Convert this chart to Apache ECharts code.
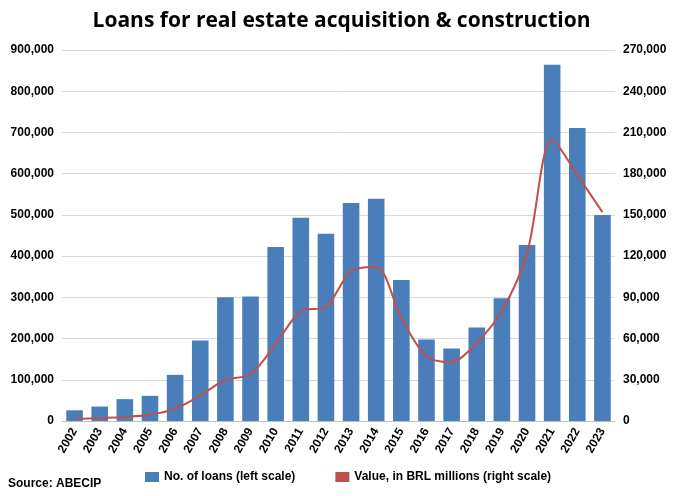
<!DOCTYPE html>
<html><head><meta charset="utf-8">
<script src="https://cdn.jsdelivr.net/npm/echarts@6/dist/echarts.min.js"></script>
<style>html,body{margin:0;padding:0;background:#fff}#c{width:683px;height:496px}</style>
</head><body><div id="c"></div>
<script>
const years=['2002','2003','2004','2005','2006','2007','2008','2009','2010','2011','2012','2013','2014','2015','2016','2017','2018','2019','2020','2021','2022','2023'];
const loans=[26000,35000,53000,61000,112000,195000,300000,302000,422000,493000,454000,529000,539000,342000,198000,176000,227000,298000,427000,864000,711000,500000];
const values=[1500,2200,3000,4500,9000,18500,30000,34000,56000,80000,83000,109000,112000,75000,47000,43000,57000,80000,122000,205000,179000,152000];
const fmt=v=>v.toLocaleString('en-US');
const ch=echarts.init(document.getElementById('c'));
const font='Liberation Sans';
ch.setOption({
  animation:false,
  title:{text:'Loans for real estate acquisition & construction',left:'center',top:6,textStyle:{fontFamily:'Open Sans',fontSize:21,fontWeight:'bold',color:'#000'}},
  graphic:[{type:'text',left:8,top:478,style:{text:'Source: ABECIP',font:'bold 12px "Liberation Sans"',fill:'#000'}}],
  legend:{bottom:8,left:140,itemGap:40,textStyle:{fontFamily:font,fontWeight:'bold',fontSize:12,color:'#000'},
    data:[{name:'No. of loans (left scale)',icon:'rect'},{name:'Value, in BRL millions (right scale)',icon:'rect'}],itemWidth:14,itemHeight:10},
  grid:{left:62,right:68,top:50,bottom:75},
  xAxis:{type:'category',data:years,axisTick:{show:false},axisLine:{lineStyle:{color:'#bfbfbf'}},
    axisLabel:{rotate:60,interval:0,fontFamily:font,fontWeight:'bold',fontSize:12,color:'#000'}},
  yAxis:[{type:'value',min:0,max:900000,interval:100000,axisLabel:{formatter:fmt,fontFamily:font,fontWeight:'bold',fontSize:12,color:'#000'},splitLine:{lineStyle:{color:'#d9d9d9'}}},
    {type:'value',min:0,max:270000,interval:30000,axisLabel:{formatter:fmt,fontFamily:font,fontWeight:'bold',fontSize:12,color:'#000'},splitLine:{show:false}}],
  series:[{name:'No. of loans (left scale)',type:'bar',data:loans,barWidth:'66%',itemStyle:{color:'#4a7ebb'}},
    {name:'Value, in BRL millions (right scale)',type:'line',yAxisIndex:1,data:values,smooth:0.3,showSymbol:false,lineStyle:{color:'#c0504d',width:2},itemStyle:{color:'#c0504d'}}]
});
</script></body></html>
